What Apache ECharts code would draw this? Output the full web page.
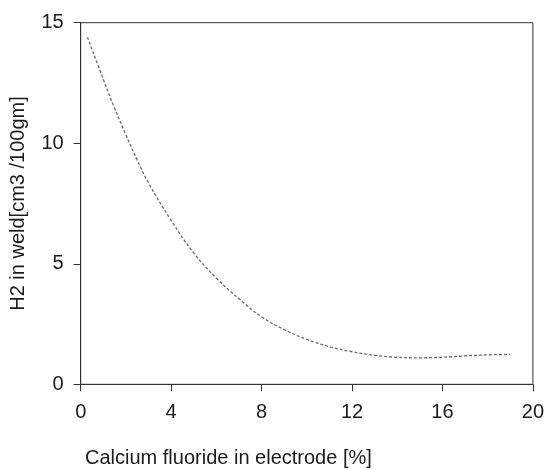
<!DOCTYPE html>
<html>
<head>
<meta charset="utf-8">
<script src="https://cdn.jsdelivr.net/npm/echarts@6/dist/echarts.min.js"></script>
<style>
  html, body { margin: 0; padding: 0; background: #fff; }
  #main { width: 547px; height: 470px; }
</style>
</head>
<body>
<div id="main"></div>
<script>
// CaF2 % in electrode vs H2 in weld
var caF2 = [0.3, 1, 1.5, 2, 2.5, 3, 4, 5, 6, 7, 8, 9, 10, 11, 12, 13, 14, 15, 16, 17, 18, 19];
var h2 = [14.4, 12.65, 11.45, 10.35, 9.3, 8.35, 6.8, 5.45, 4.4, 3.55, 2.8, 2.27, 1.86, 1.56, 1.35, 1.2, 1.12, 1.1, 1.12, 1.18, 1.22, 1.24];
var xTicks = [0, 4, 8, 12, 16, 20];
var yTicks = [0, 5, 10, 15];

var font = '"Liberation Sans", Arial, sans-serif';
var ink = '#1a1a1a';

var chart = echarts.init(document.getElementById('main'));
var option = {
  animation: false,
  grid: {
    left: 80.7,
    right: 14,
    top: 22.7,
    bottom: 85.7,
    show: true,
    borderColor: '#333',
    borderWidth: 1
  },
  graphic: [{
    type: 'text',
    left: 85,
    top: 448,
    style: {
      text: 'Calcium fluoride in electrode [%]',
      font: '20px ' + font,
      fill: ink
    }
  }],
  xAxis: {
    type: 'value',
    min: xTicks[0],
    max: xTicks[xTicks.length - 1],
    interval: 4,
    splitLine: { show: false },
    axisLine: { lineStyle: { color: '#333', width: 1 } },
    axisTick: { show: true, length: 7, lineStyle: { color: '#333' } },
    axisLabel: { margin: 18, fontSize: 20, fontFamily: font, color: ink }
  },
  yAxis: {
    type: 'value',
    min: yTicks[0],
    max: yTicks[yTicks.length - 1],
    interval: 5,
    name: 'H2 in weld[cm3 /100gm]',
    nameLocation: 'middle',
    nameGap: 52,
    nameTextStyle: { fontSize: 20, fontFamily: font, color: ink },
    splitLine: { show: false },
    axisLine: { show: true, lineStyle: { color: '#333', width: 1 } },
    axisTick: { show: true, length: 7, lineStyle: { color: '#333' } },
    axisLabel: { margin: 17, fontSize: 20, fontFamily: font, color: ink }
  },
  series: [{
    type: 'line',
    data: caF2.map(function (x, i) { return [x, h2[i]]; }),
    smooth: 0.4,
    symbol: 'none',
    lineStyle: { color: '#6a6a6a', width: 1.3, type: [3, 2] }
  }]
};
chart.setOption(option);
</script>
</body>
</html>
